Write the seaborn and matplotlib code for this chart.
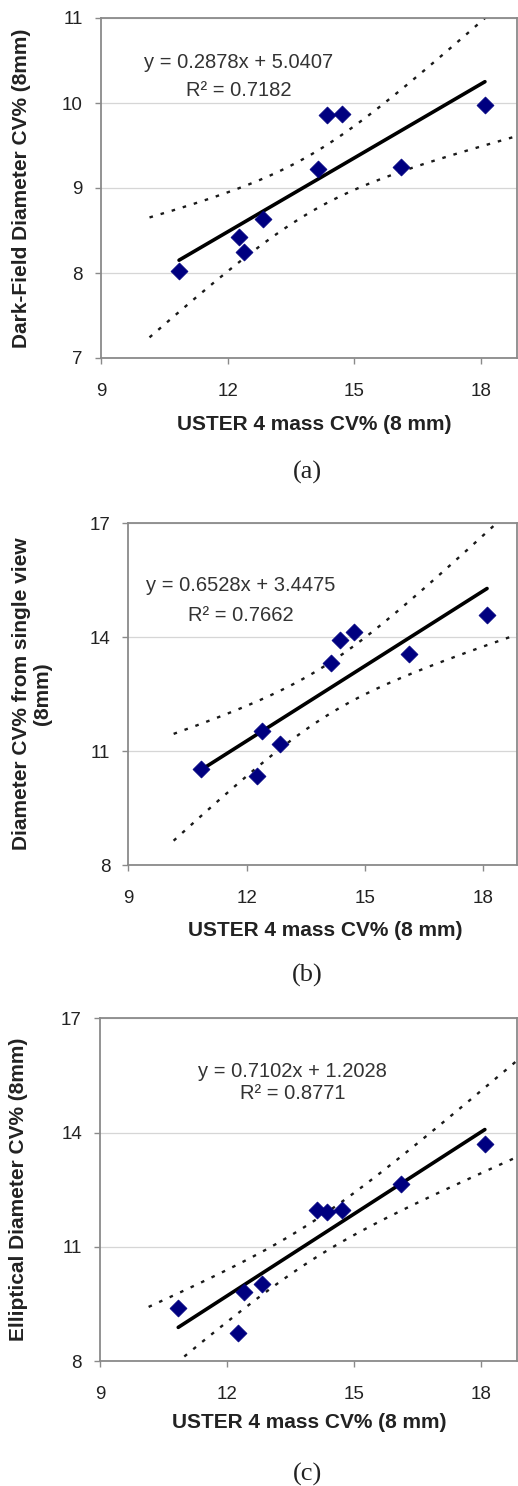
import numpy as np
import pandas as pd
import matplotlib
matplotlib.use("Agg")
import matplotlib.pyplot as plt
import seaborn as sns

# ---------------- data ----------------
uster_cv = [10.85, 12.27, 12.40, 12.84, 14.14, 14.36, 14.72, 16.12, 18.10]
darkfield_cv = [8.02, 8.42, 8.25, 8.64, 9.22, 9.86, 9.87, 9.25, 9.98]
single_view_cv = [10.54, 10.34, 11.53, 11.20, 13.31, 13.92, 14.14, 13.55, 14.58]
elliptical_cv = [9.38, 8.73, 9.82, 10.01, 11.96, 11.92, 11.96, 12.64, 13.70]

equations = ["y = 0.2878x + 5.0407", "y = 0.6528x + 3.4475", "y = 0.7102x + 1.2028"]
r_squared = ["0.7182", "0.7662", "0.8771"]
y_labels = ["Dark-Field Diameter CV% (8mm)",
            "Diameter CV% from single view\n(8mm)",
            "Elliptical Diameter CV% (8mm)"]
x_label = "USTER 4 mass CV% (8 mm)"
captions = ["(a)", "(b)", "(c)"]
x_ticks = [9, 12, 15, 18]
y_ticks_a = [7, 8, 9, 10, 11]
y_ticks_bc = [8, 11, 14, 17]
t_crit_df7 = 2.365  # Student t, 95 %, n-2 = 7 degrees of freedom

# ---------------- style ----------------
sns.set_theme(style="white")
plt.rcParams["font.family"] = ["Liberation Sans", "DejaVu Sans"]

W, H = 518, 1486
fig = plt.figure(figsize=(W / 100, H / 100), dpi=100)

# panel geometry in pixels: (left, top, bottom)
panels = [
    dict(y=darkfield_cv, ylim=(7, 11), yticks=y_ticks_a, box=(101, 18, 358),
         eq_xy=(12.25, 10.48), r2_xy=(12.27, 10.15),
         ylab_x=-0.19, xlab=(0.513, -0.197), cap_y=472),
    dict(y=single_view_cv, ylim=(8, 17), yticks=y_ticks_bc, box=(128.3, 523.3, 865),
         eq_xy=(11.86, 15.37), r2_xy=(11.85, 14.58),
         ylab_x=-0.248, xlab=(0.507, -0.193), cap_y=975),
    dict(y=elliptical_cv, ylim=(8, 17), yticks=y_ticks_bc, box=(100, 1018.3, 1361),
         eq_xy=(13.55, 15.59), r2_xy=(13.55, 15.03),
         ylab_x=-0.196, xlab=(0.502, -0.178), cap_y=1474),
]

RIGHT_PX = 517
XMAX = 18.86
BAND_START = 10.15
text_col = "#333333"
spine_col = "#8a8a8a"

for i, p in enumerate(panels):
    left, top, bottom = p["box"]
    ax = fig.add_axes([left / W, 1 - bottom / H, (RIGHT_PX - left) / W, (bottom - top) / H])

    x = np.asarray(uster_cv)
    y = np.asarray(p["y"])
    df = pd.DataFrame({"x": x, "y": y})

    # 95% confidence band of the regression mean
    slope, intercept = np.polyfit(x, y, 1)
    n = len(x)
    resid = y - (slope * x + intercept)
    s = np.sqrt(np.sum(resid ** 2) / (n - 2))
    sxx = np.sum((x - x.mean()) ** 2)
    xb = np.linspace(BAND_START, XMAX + 0.3, 200)
    fit = slope * xb + intercept
    half = t_crit_df7 * s * np.sqrt(1 / n + (xb - x.mean()) ** 2 / sxx)
    band = pd.DataFrame({"x": xb, "upper": fit + half, "lower": fit - half})

    for col in ["upper", "lower"]:
        sns.lineplot(data=band, x="x", y=col, ax=ax, estimator=None,
                     color="#1a1a1a", lw=1.7, linestyle=(0, (1.5, 3.4)), zorder=2)

    sns.regplot(data=df, x="x", y="y", ax=ax, ci=None, scatter=False, truncate=True,
                line_kws=dict(color="black", lw=2.6, zorder=3))

    sns.scatterplot(data=df, x="x", y="y", ax=ax, marker="D", s=75,
                    color="#000080", edgecolor="#000080", linewidth=0.5, zorder=4)

    ax.set_xlim(9, XMAX)
    ax.set_ylim(*p["ylim"])
    ax.set_xticks(x_ticks)
    ax.set_yticks(p["yticks"])
    ax.grid(axis="y", color="#d6d6d6", lw=0.9)
    ax.grid(axis="x", visible=False)
    ax.set_axisbelow(True)

    for side in ["left", "bottom", "top", "right"]:
        ax.spines[side].set_color(spine_col)
        ax.spines[side].set_linewidth(1.3)

    ax.tick_params(axis="y", which="major", length=4, width=1, color=spine_col,
                   pad=9, labelsize=13.5, labelcolor="#222222", left=True)
    ax.tick_params(axis="x", which="major", length=4, width=1, color=spine_col,
                   pad=14, labelsize=13.5, labelcolor="#222222", bottom=True)

    ax.set_xlabel(x_label, fontsize=15, fontweight="bold", color="#222222", va="center")
    ax.xaxis.set_label_coords(*p["xlab"])
    ax.set_ylabel(y_labels[i], fontsize=15, fontweight="bold", color="#222222",
                  va="center", ha="center", linespacing=1.1)
    ax.yaxis.set_label_coords(p["ylab_x"], 0.5)

    ax.text(*p["eq_xy"], equations[i], ha="center", va="center",
            fontsize=14.5, color=text_col)
    ax.text(*p["r2_xy"], "R\u00b2 = " + r_squared[i], ha="center", va="center",
            fontsize=14.5, color=text_col)

    fig.text(307 / W, 1 - p["cap_y"] / H, captions[i], ha="center", va="center",
             fontsize=19, family=["Liberation Serif", "DejaVu Serif"], color="#222222")

fig.savefig("out.png", dpi=100, facecolor="white")
